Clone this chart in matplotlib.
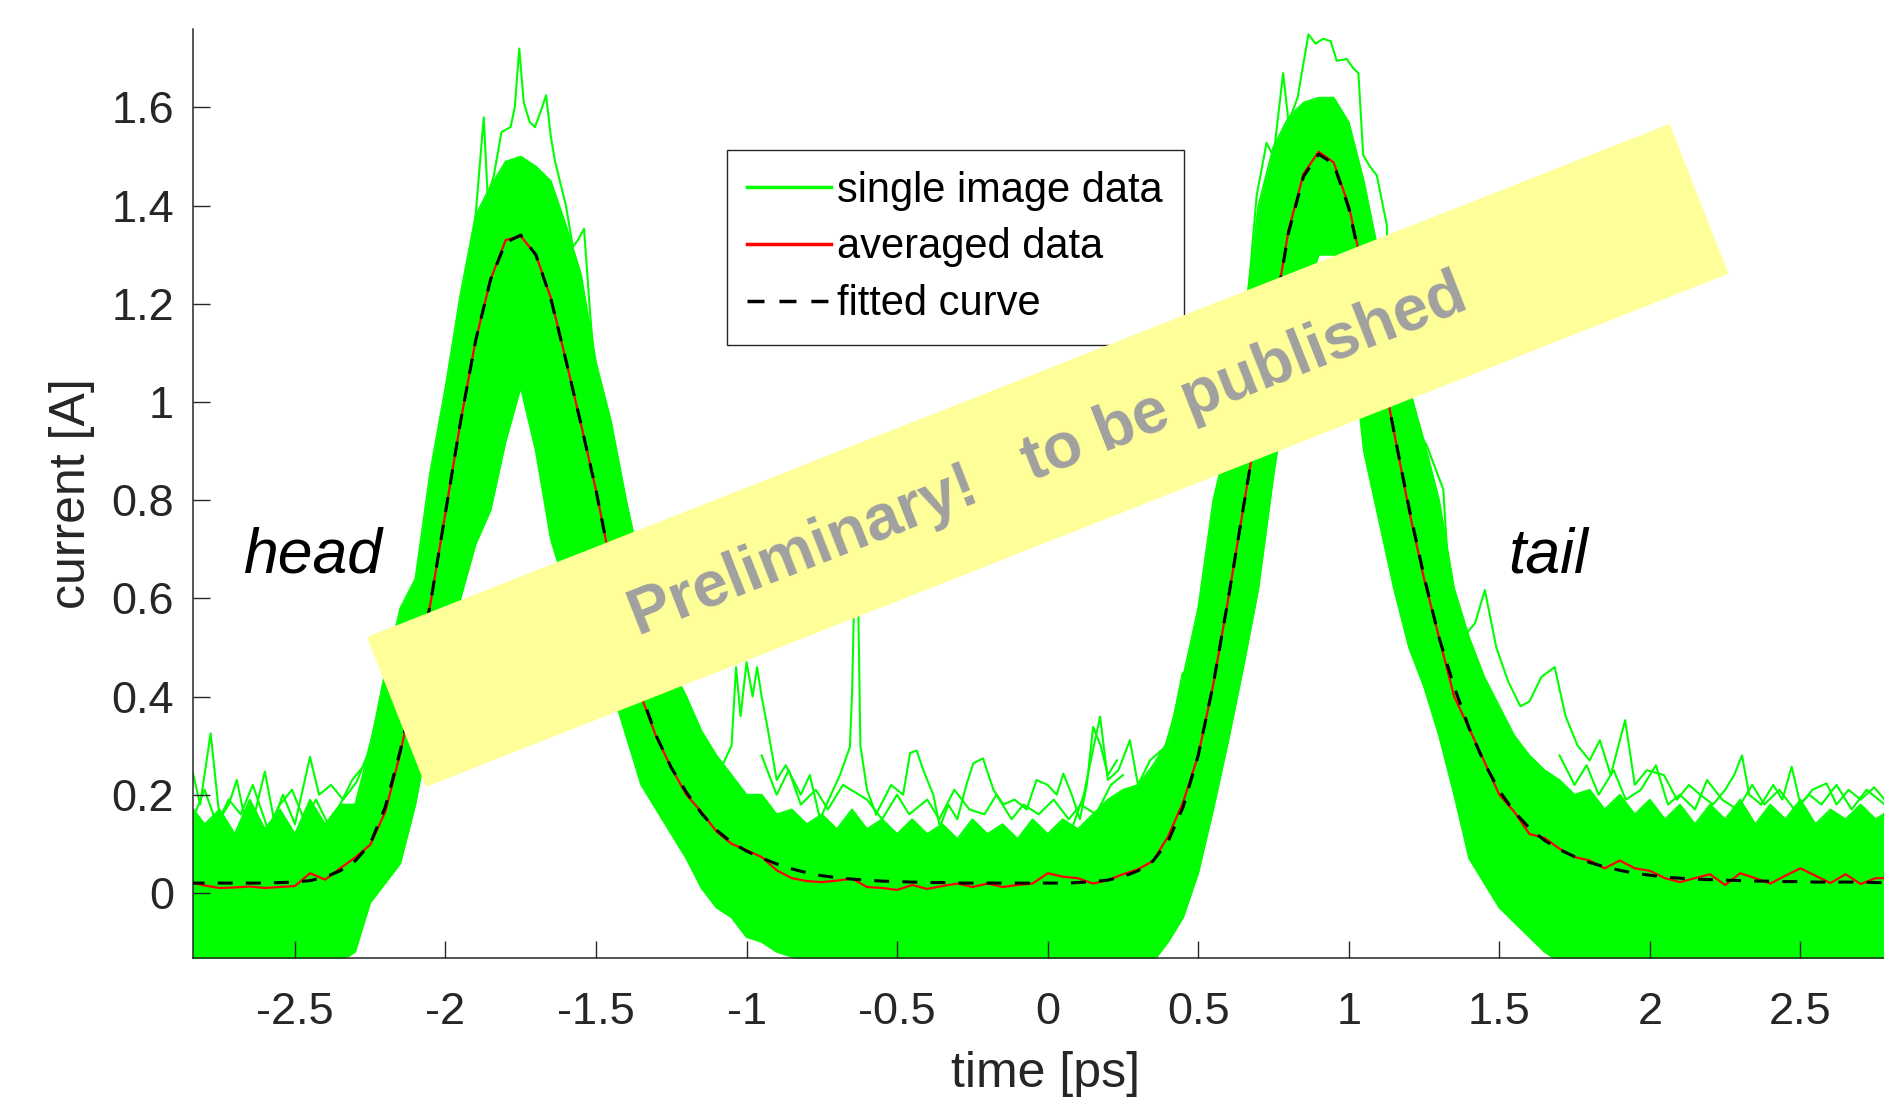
import numpy as np
import matplotlib.pyplot as plt
from matplotlib.patches import Polygon
from matplotlib.ticker import FormatStrFormatter

plt.rcParams['font.family'] = ['Liberation Sans', 'DejaVu Sans']
plt.rcParams['axes.unicode_minus'] = False

# sampling grid of the curves (ps)
time_ps = np.round(np.arange(-2.85, 2.801, 0.05), 2)

fitted_curve = [
    0.020, 0.020, 0.020, 0.020, 0.020, 0.020, 0.021, 0.022, 0.025, 0.032,
    0.045, 0.065, 0.100, 0.175, 0.290, 0.430, 0.590, 0.775, 0.960, 1.125,
    1.250, 1.325, 1.340, 1.300, 1.210, 1.085, 0.955, 0.820, 0.665, 0.525,
    0.405, 0.320, 0.255, 0.205, 0.162, 0.128, 0.103, 0.085, 0.071, 0.059,
    0.049, 0.041, 0.035, 0.031, 0.028, 0.026, 0.024, 0.023, 0.022, 0.021,
    0.021, 0.020, 0.020, 0.020, 0.020, 0.020, 0.020, 0.020, 0.020, 0.021,
    0.023, 0.026, 0.033, 0.045, 0.065, 0.105, 0.175, 0.280, 0.425, 0.600,
    0.785, 0.970, 1.165, 1.345, 1.460, 1.505, 1.485, 1.395, 1.255, 1.100,
    0.940, 0.785, 0.645, 0.520, 0.420, 0.335, 0.265, 0.208, 0.165, 0.132,
    0.107, 0.088, 0.074, 0.062, 0.053, 0.046, 0.040, 0.036, 0.032, 0.030,
    0.028, 0.027, 0.026, 0.025, 0.024, 0.024, 0.023, 0.023, 0.022, 0.022,
    0.022, 0.022, 0.021, 0.021,
]

averaged_data = [
    0.022, 0.015, 0.010, 0.011, 0.013, 0.010, 0.012, 0.014, 0.040, 0.027,
    0.050, 0.072, 0.098, 0.165, 0.285, 0.430, 0.590, 0.775, 0.960, 1.125,
    1.250, 1.330, 1.338, 1.300, 1.212, 1.085, 0.955, 0.820, 0.665, 0.525,
    0.400, 0.318, 0.255, 0.200, 0.165, 0.125, 0.100, 0.087, 0.073, 0.046,
    0.030, 0.024, 0.022, 0.025, 0.029, 0.012, 0.010, 0.006, 0.016, 0.008,
    0.014, 0.019, 0.012, 0.019, 0.012, 0.016, 0.019, 0.040, 0.033, 0.030,
    0.019, 0.026, 0.038, 0.048, 0.065, 0.115, 0.185, 0.280, 0.425, 0.600,
    0.785, 0.970, 1.165, 1.350, 1.465, 1.510, 1.488, 1.400, 1.260, 1.100,
    0.940, 0.780, 0.640, 0.520, 0.400, 0.335, 0.268, 0.200, 0.165, 0.120,
    0.112, 0.090, 0.073, 0.066, 0.050, 0.066, 0.050, 0.045, 0.030, 0.022,
    0.030, 0.038, 0.016, 0.040, 0.030, 0.019, 0.035, 0.050, 0.035, 0.020,
    0.038, 0.018, 0.030, 0.030,
]

# upper / lower edge of the dense bundle of single image traces
single_upper = [
    0.18, 0.14, 0.17, 0.12, 0.19, 0.13, 0.17, 0.12, 0.19, 0.14,
    0.18, 0.18, 0.30, 0.45, 0.58, 0.64, 0.86, 1.03, 1.22, 1.38,
    1.44, 1.49, 1.50, 1.48, 1.45, 1.36, 1.26, 1.08, 0.96, 0.80,
    0.66, 0.55, 0.46, 0.40, 0.33, 0.28, 0.24, 0.20, 0.20, 0.16,
    0.17, 0.14, 0.16, 0.13, 0.17, 0.13, 0.15, 0.12, 0.15, 0.12,
    0.14, 0.11, 0.15, 0.12, 0.14, 0.11, 0.15, 0.12, 0.15, 0.13,
    0.16, 0.19, 0.21, 0.22, 0.26, 0.31, 0.44, 0.58, 0.80, 0.93,
    1.15, 1.40, 1.52, 1.58, 1.61, 1.62, 1.62, 1.57, 1.45, 1.30,
    1.15, 1.03, 0.92, 0.80, 0.62, 0.52, 0.44, 0.38, 0.32, 0.28,
    0.25, 0.23, 0.20, 0.21, 0.17, 0.20, 0.16, 0.19, 0.15, 0.18,
    0.14, 0.18, 0.15, 0.19, 0.14, 0.18, 0.15, 0.19, 0.14, 0.17,
    0.15, 0.18, 0.15, 0.17,
]

single_lower = [
    -0.14, -0.14, -0.14, -0.14, -0.14, -0.14, -0.14, -0.14, -0.14, -0.14,
    -0.14, -0.12, -0.02, 0.02, 0.06, 0.18, 0.34, 0.47, 0.60, 0.71,
    0.78, 0.92, 1.03, 0.90, 0.72, 0.62, 0.54, 0.48, 0.42, 0.32,
    0.22, 0.17, 0.12, 0.07, 0.01, -0.03, -0.05, -0.09, -0.10, -0.12,
    -0.13, -0.14, -0.14, -0.14, -0.14, -0.14, -0.14, -0.14, -0.14, -0.14,
    -0.14, -0.14, -0.14, -0.14, -0.14, -0.14, -0.14, -0.14, -0.14, -0.14,
    -0.14, -0.14, -0.14, -0.14, -0.14, -0.10, -0.05, 0.04, 0.17, 0.31,
    0.46, 0.62, 0.85, 1.05, 1.20, 1.30, 1.30, 1.18, 0.90, 0.76,
    0.62, 0.50, 0.42, 0.32, 0.20, 0.07, 0.02, -0.03, -0.06, -0.09,
    -0.12, -0.14, -0.14, -0.14, -0.14, -0.14, -0.14, -0.14, -0.14, -0.14,
    -0.14, -0.14, -0.14, -0.14, -0.14, -0.14, -0.14, -0.14, -0.14, -0.14,
    -0.14, -0.14, -0.14, -0.14,
]

# single traces sticking out of the bundle
left_spikes_t = [-2.84, -2.815, -2.78, -2.75, -2.72, -2.693, -2.66, -2.63, -2.60, -2.57,
                 -2.54, -2.50, -2.45, -2.42, -2.38, -2.34, -2.295, -2.26, -2.23, -2.207, -2.18]
left_spikes_i = [0.247, 0.18, 0.325, 0.15, 0.18, 0.23, 0.13, 0.17, 0.247, 0.15,
                 0.20, 0.14, 0.277, 0.20, 0.22, 0.19, 0.226, 0.28, 0.35, 0.427, 0.40]

left_noise_t = [-2.84, -2.80, -2.76, -2.72, -2.68, -2.64, -2.59, -2.55, -2.51, -2.47,
                -2.43, -2.39, -2.35, -2.31, -2.27]
left_noise_i = [0.15, 0.21, 0.14, 0.19, 0.16, 0.22, 0.13, 0.18, 0.21, 0.15,
                0.19, 0.14, 0.18, 0.23, 0.26]

head_top_t = [-1.93, -1.90, -1.873, -1.86, -1.84, -1.814, -1.784, -1.77, -1.755, -1.74,
              -1.72, -1.703, -1.685, -1.666, -1.65, -1.636, -1.60, -1.577, -1.56, -1.54,
              -1.518, -1.503, -1.458, -1.414, -1.39]
head_top_i = [1.22, 1.38, 1.58, 1.42, 1.46, 1.55, 1.56, 1.60, 1.72, 1.61,
              1.57, 1.56, 1.59, 1.625, 1.54, 1.49, 1.40, 1.316, 1.33, 1.353,
              1.167, 1.065, 0.977, 0.793, 0.70]

mid_spike_t = [-1.12, -1.08, -1.05, -1.035, -1.02, -1.00, -0.98, -0.965, -0.95, -0.933,
               -0.90, -0.87, -0.845, -0.82, -0.79, -0.756, -0.72, -0.69, -0.657, -0.65,
               -0.642, -0.63, -0.622, -0.60, -0.57]
mid_spike_i = [0.22, 0.26, 0.30, 0.46, 0.36, 0.47, 0.40, 0.46, 0.40, 0.345,
               0.23, 0.26, 0.23, 0.20, 0.24, 0.15, 0.20, 0.24, 0.297, 0.40,
               0.62, 0.62, 0.30, 0.21, 0.16]

mid_humps_t = [-0.57, -0.52, -0.48, -0.457, -0.435, -0.413, -0.38, -0.358, -0.33, -0.30,
               -0.27, -0.247, -0.215, -0.18, -0.147, -0.11, -0.07, -0.037, 0.0, 0.03,
               0.052, 0.08, 0.107, 0.13, 0.151, 0.176, 0.20, 0.23]
mid_humps_i = [0.16, 0.22, 0.20, 0.285, 0.29, 0.25, 0.20, 0.134, 0.18, 0.15,
               0.22, 0.264, 0.274, 0.21, 0.18, 0.19, 0.17, 0.23, 0.22, 0.20,
               0.243, 0.20, 0.15, 0.22, 0.338, 0.30, 0.24, 0.27]

mid_noise_t = [-0.95, -0.90, -0.86, -0.82, -0.77, -0.73, -0.68, -0.60, -0.55, -0.50,
               -0.46, -0.40, -0.36, -0.31, -0.26, -0.21, -0.17, -0.12, -0.08, -0.03,
               0.02, 0.07, 0.11, 0.16, 0.21, 0.25]
mid_noise_i = [0.28, 0.20, 0.25, 0.18, 0.21, 0.17, 0.22, 0.19, 0.15, 0.20,
               0.16, 0.19, 0.15, 0.21, 0.17, 0.16, 0.20, 0.15, 0.18, 0.16,
               0.19, 0.15, 0.18, 0.16, 0.22, 0.24]

tail_rise_t = [0.08, 0.12, 0.15, 0.174, 0.20, 0.235, 0.273, 0.30, 0.34, 0.39, 0.42, 0.448, 0.48, 0.51]
tail_rise_i = [0.13, 0.20, 0.29, 0.359, 0.23, 0.25, 0.311, 0.22, 0.27, 0.297, 0.36, 0.447, 0.46, 0.60]

tail_top_t = [0.64, 0.672, 0.694, 0.727, 0.75, 0.782, 0.80, 0.83, 0.866, 0.89,
              0.915, 0.94, 0.96, 0.993, 1.015, 1.032, 1.048, 1.07, 1.093, 1.126,
              1.137, 1.18, 1.226, 1.26, 1.314, 1.336]
tail_top_i = [1.05, 1.262, 1.42, 1.528, 1.50, 1.67, 1.57, 1.62, 1.749, 1.73,
              1.74, 1.735, 1.695, 1.699, 1.68, 1.67, 1.503, 1.48, 1.462, 1.362,
              1.196, 1.05, 0.947, 0.91, 0.822, 0.60]

right_spikes_t = [1.336, 1.38, 1.42, 1.452, 1.49, 1.53, 1.57, 1.60, 1.64, 1.684,
                  1.72, 1.76, 1.80, 1.834, 1.87, 1.918, 1.95, 1.99, 2.047, 2.09,
                  2.13, 2.167, 2.21, 2.25, 2.28, 2.306, 2.33, 2.37, 2.41, 2.44,
                  2.471, 2.50, 2.54, 2.587, 2.62, 2.66, 2.70, 2.745, 2.78]
right_spikes_i = [0.60, 0.52, 0.55, 0.617, 0.50, 0.43, 0.38, 0.39, 0.44, 0.46,
                  0.36, 0.30, 0.27, 0.311, 0.24, 0.352, 0.22, 0.25, 0.24, 0.19,
                  0.22, 0.20, 0.18, 0.21, 0.24, 0.28, 0.20, 0.18, 0.22, 0.19,
                  0.257, 0.18, 0.21, 0.223, 0.18, 0.21, 0.19, 0.215, 0.19]

right_noise_t = [1.70, 1.75, 1.79, 1.83, 1.88, 1.92, 1.97, 2.02, 2.06, 2.10,
                 2.15, 2.19, 2.24, 2.29, 2.34, 2.38, 2.43, 2.48, 2.53, 2.57,
                 2.62, 2.67, 2.72, 2.78]
right_noise_i = [0.28, 0.22, 0.26, 0.20, 0.25, 0.19, 0.21, 0.26, 0.18, 0.20,
                 0.17, 0.23, 0.19, 0.17, 0.22, 0.18, 0.21, 0.17, 0.20, 0.18,
                 0.22, 0.17, 0.21, 0.18]

x_ticks = [-2.5, -2, -1.5, -1, -0.5, 0, 0.5, 1, 1.5, 2, 2.5]
y_ticks = [0, 0.2, 0.4, 0.6, 0.8, 1, 1.2, 1.4, 1.6]

GREEN = '#00FF00'
AXCOL = '#262626'

fig = plt.figure(figsize=(18.84, 10.97), dpi=100)
ax = fig.add_axes([0.1027, 0.127, 0.9047, 0.8466])

ax.fill_between(time_ps, single_lower, single_upper, color=GREEN, lw=0, zorder=1)
ax.plot(time_ps, single_upper, color=GREEN, lw=1.3, zorder=1)
ax.plot(time_ps, single_lower, color=GREEN, lw=1.3, zorder=1)
extra = [(left_spikes_t, left_spikes_i), (left_noise_t, left_noise_i),
         (head_top_t, head_top_i), (mid_spike_t, mid_spike_i),
         (mid_humps_t, mid_humps_i), (mid_noise_t, mid_noise_i),
         (tail_rise_t, tail_rise_i), (tail_top_t, tail_top_i),
         (right_spikes_t, right_spikes_i), (right_noise_t, right_noise_i)]
for k, (tt, ii) in enumerate(extra):
    ax.plot(tt, ii, color=GREEN, lw=1.5, zorder=1,
            label='single image data' if k == 0 else None)

ax.plot(time_ps, averaged_data, color='#FF0000', lw=1.6, zorder=3, label='averaged data')
ax.plot(time_ps, fitted_curve, color='black', lw=2.2, ls=(0, (4.9, 4.3)), zorder=4,
        label='fitted curve')

ax.set_xlim(-2.837, 2.824)
ax.set_ylim(-0.132, 1.76)
ax.set_xticks(x_ticks)
ax.set_yticks(y_ticks)
ax.xaxis.set_major_formatter(FormatStrFormatter('%g'))
ax.yaxis.set_major_formatter(FormatStrFormatter('%g'))
for side in ['top', 'right']:
    ax.spines[side].set_visible(False)
for side in ['left', 'bottom']:
    ax.spines[side].set_color(AXCOL)
    ax.spines[side].set_linewidth(1.1)
ax.tick_params(axis='both', direction='in', length=12, width=1.0, colors=AXCOL,
               labelsize=32.5)
ax.tick_params(axis='x', pad=25)
ax.tick_params(axis='y', pad=14)

ax.set_xlabel('time [ps]', fontsize=36, color=AXCOL, labelpad=13)
ax.set_ylabel('current [A]', fontsize=36, color=AXCOL, labelpad=12)

ax.text(-2.67, 0.653, 'head', fontsize=45, style='italic', ha='left', va='baseline')
ax.text(1.53, 0.653, 'tail', fontsize=45, style='italic', ha='left', va='baseline')

leg = ax.legend(loc='upper left', bbox_to_anchor=(0.3128, 0.8697), fontsize=30,
                frameon=True, fancybox=False, edgecolor=AXCOL, framealpha=1,
                borderpad=0.5, handlelength=2.0, handletextpad=0.15,
                labelspacing=0.4, borderaxespad=0)
leg.get_frame().set_linewidth(1.0)
for line in leg.get_lines():
    line.set_linewidth(2.5)

# yellow "preliminary" banner on top of everything
W, H = 1884.0, 1097.0
cx, cy = 1047.7, H - 455.4
bw, bh, ang = 1400.0, 161.0, np.deg2rad(21.5)
u = np.array([np.cos(ang), np.sin(ang)])
v = np.array([-np.sin(ang), np.cos(ang)])
c = np.array([cx, cy])
corners = [c - bw / 2 * u - bh / 2 * v, c + bw / 2 * u - bh / 2 * v,
           c + bw / 2 * u + bh / 2 * v, c - bw / 2 * u + bh / 2 * v]
corners = [(p[0] / W, p[1] / H) for p in corners]
fig.add_artist(Polygon(corners, closed=True, transform=fig.transFigure,
                       facecolor='#FFFF99', edgecolor='none', zorder=10))
base = c - 18 * v
fig.text(base[0] / W, base[1] / H, 'Preliminary!   to be published', fontsize=46,
         fontweight='bold', color='#A0A0A0', rotation=21.5, rotation_mode='anchor',
         ha='center', va='baseline', zorder=11)

fig.savefig('out.png', dpi=100)
